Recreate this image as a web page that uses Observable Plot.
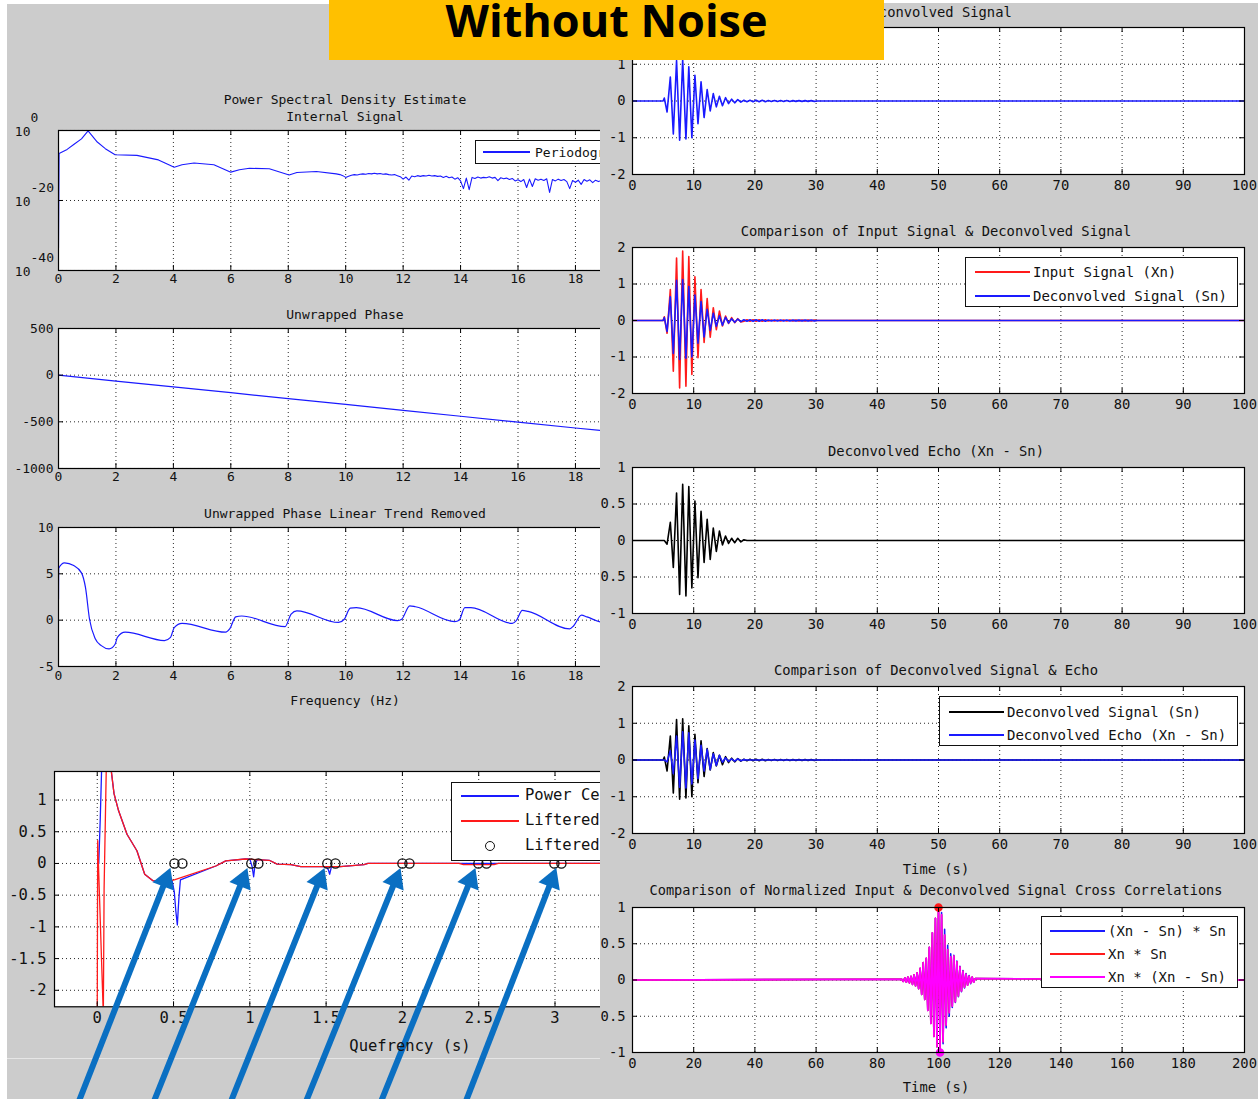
<!DOCTYPE html>
<html>
<head>
<meta charset="utf-8">
<script src="https://cdn.jsdelivr.net/npm/d3@7"></script>
<script src="https://cdn.jsdelivr.net/npm/@observablehq/plot@0.6"></script>
<style>
  html, body { margin: 0; padding: 0; background: #fff; }
  #page { position: relative; width: 1258px; height: 1099px; overflow: hidden; background: #fff;
          font-family: "DejaVu Sans Mono", monospace; }
  .col { position: absolute; top: 0; height: 1099px; overflow: hidden; }
  .lbl { position: absolute; white-space: nowrap; color: #111; line-height: 1; }
  .legend { position: absolute; background: #fff; border: 1px solid #111; box-sizing: border-box; }
  .swatch { position: absolute; height: 2px; }
  .ring { position: absolute; border: 1.3px solid #111; border-radius: 50%; box-sizing: border-box; }
</style>
</head>
<body>
<div id="page">
  <div id="left" class="col" style="left:0;width:600px;">
    <div style="position:absolute;left:7px;top:4px;width:593px;height:1095px;background:#cccccc;"></div>
    <div style="position:absolute;left:7px;top:1058px;width:593px;height:1px;background:#e6e6e6;"></div>
  </div>
  <div id="right" class="col" style="left:600px;width:658px;">
    <div style="position:absolute;left:0;top:3px;width:658px;height:1096px;background:#cccccc;"></div>
  </div>
  <div style="position:absolute;left:329px;top:0;width:555px;height:60px;background:#ffc000;z-index:5;"></div>
  <div style="position:absolute;left:329px;top:-11px;width:555px;text-align:center;z-index:6;
              font:700 45px 'Open Sans', sans-serif;color:#000;">Without Noise</div>
</div>
<script>
// ---------------- Data: left column (spectral analysis of the internal signal) ----------------
// Periodogram, smooth part (Hz, log10 of power)
const psdFreq = [0, 0.02, 0.3, 0.53, 0.8, 1.03, 1.35, 1.63, 1.97, 2.73, 3.48, 4.03, 4.3, 4.72, 5.41,
                 6.0, 6.3, 6.65, 7.34, 8.03, 8.3, 8.98, 9.67];
const psdLog  = [-33.7, -6.6, -5.4, -4.0, -2.4, -0.1, -3.3, -5.2, -6.95, -7.1, -8.4, -10.5, -9.8, -9.3, -9.8,
                 -11.9, -11.2, -10.8, -10.95, -12.7, -12.0, -11.7, -12.4];
// Periodogram, ragged high-frequency part
const psdNoiseFreq = [
  9.8, 9.9, 10.0, 10.1, 10.2, 10.3, 10.4, 10.5, 10.6, 10.7, 10.8, 10.9, 11.0, 11.1, 11.2, 11.3, 11.4, 11.5, 11.6, 11.7,
  11.8, 11.9, 12.0, 12.1, 12.2, 12.3, 12.4, 12.5, 12.6, 12.7, 12.8, 12.9, 13.0, 13.1, 13.2, 13.3, 13.4, 13.5, 13.6, 13.7,
  13.8, 13.9, 14.0, 14.1, 14.2, 14.3, 14.4, 14.5, 14.6, 14.7, 14.8, 14.9, 15.0, 15.1, 15.2, 15.3, 15.4, 15.5, 15.6, 15.7,
  15.8, 15.9, 16.0, 16.1, 16.2, 16.3, 16.4, 16.5, 16.6, 16.7, 16.8, 16.9, 17.0, 17.1, 17.2, 17.3, 17.4, 17.5, 17.6, 17.7,
  17.8, 17.9, 18.0, 18.1, 18.2, 18.3, 18.4, 18.5, 18.6, 18.7, 18.8, 18.9];
const psdNoiseLog = [
  -12.6, -12.9, -13.4, -13.1, -12.8, -12.6, -12.7, -12.5, -12.4, -12.5, -12.3, -12.4, -12.2, -12.4, -12.3, -12.5, -12.4, -12.6, -12.7, -12.6,
  -12.9, -13.2, -13.9, -13.3, -14.2, -13.0, -13.2, -12.9, -13.1, -12.9, -13.0, -12.8, -13.0, -12.9, -13.1, -13.0, -13.4, -13.1, -13.5, -13.3,
  -13.9, -13.5, -14.4, -16.6, -13.6, -16.9, -13.4, -13.7, -13.3, -13.6, -13.4, -13.5, -13.2, -13.6, -13.4, -14.3, -13.5, -13.8, -13.6, -14.0,
  -13.7, -14.4, -14.1, -14.6, -14.0, -16.3, -13.9, -16.0, -13.8, -14.2, -13.9, -14.3, -13.8, -17.7, -14.0, -14.4, -13.9, -14.3, -14.0, -14.6,
  -16.6, -14.3, -14.8, -14.2, -15.4, -14.0, -14.5, -14.1, -14.9, -14.2, -14.6, -14.3];
const psdExponents = [0, -20, -40];

// Unwrapped phase (rad)
const phaseFreq = [0, 2, 4, 6, 8, 10, 12, 14, 16, 18, 20];
const phaseVal  = [0, -63, -126, -188, -251, -314, -377, -440, -503, -566, -628];

// Unwrapped phase with the linear trend removed
const trendFreq = [0, 0.005, 0.21, 0.53, 0.8, 0.94, 1.08, 1.28, 1.49, 1.76, 1.97, 2.05, 2.32, 3.69, 3.9, 4.03, 4.3,
                   5.82, 5.96, 6.17, 6.38, 7.89, 8.1, 8.3, 9.75, 9.95, 10.16, 10.37, 11.81, 11.95, 12.23, 12.43,
                   13.8, 13.95, 14.15, 14.36, 15.8, 15.94, 16.15, 16.35, 17.8, 17.94, 18.21, 18.4, 18.87, 19.5];
const trendVal  = [2.25, 5.6, 6.18, 5.9, 5.1, 3.5, 0.1, -2.0, -2.75, -3.1, -2.6, -1.85, -1.3, -2.2, -1.85, -0.8, -0.35,
                   -1.3, -0.95, 0.35, 0.45, -0.7, 0.65, 1.0, -0.25, 0.1, 1.3, 1.35, -0.05, 0.1, 1.55, 1.45,
                   -0.15, 0, 1.35, 1.35, -0.35, -0.05, 1.05, 0.95, -0.95, -0.6, 0.55, 0.35, -0.2, -0.55];

// Power cepstrum and liftered cepstrum (quefrency in s)
const cepPowerQ = [0, 0.01, 0.02, 0.03, 0.085, 0.11, 0.14, 0.195, 0.26, 0.311, 0.363, 0.427, 0.49, 0.505, 0.515,
                   0.525, 0.535, 0.545, 0.777, 0.842, 0.97, 1.0, 1.015, 1.025, 1.035, 1.05, 1.127, 1.179, 1.27, 1.334,
                   1.5, 1.515, 1.523, 1.535, 1.593, 1.748, 1.774, 3.6];
const cepPowerV = [0, 0, 0.72, 1.6, 1.6, 1.1, 0.83, 0.46, 0.2, -0.17, -0.27, -0.3, -0.265, -0.45, -0.75,
                   -0.97, -0.55, -0.26, -0.04, 0.04, 0.07, 0.07, -0.05, -0.21, 0.0, 0.06, 0.05, -0.01, -0.02, -0.05,
                   -0.05, -0.1, -0.17, -0.05, -0.05, -0.02, 0, 0];
const cepLiftQ = [0, 0.003, 0.04, 0.045, 0.06, 0.085, 0.11, 0.14, 0.195, 0.26, 0.311, 0.363, 0.427, 0.505, 0.777,
                  0.842, 0.97, 1.127, 1.179, 1.27, 1.334, 1.593, 1.748, 1.774, 2.37, 2.4, 2.6, 2.63, 3.6];
const cepLiftV = [-2.4, 0.36, -2.4, -0.4, 1.6, 1.6, 1.1, 0.83, 0.46, 0.2, -0.17, -0.27, -0.3, -0.26, -0.04,
                  0.04, 0.07, 0.05, -0.01, -0.02, -0.05, -0.05, -0.02, 0, 0, -0.02, -0.02, 0, 0];
const liftPeakQ = [0.506, 0.558, 1.010, 1.056, 1.508, 1.561, 2.0, 2.046, 2.498, 2.551, 2.996, 3.042];
const liftPeakV = [0, 0, 0, 0, 0, 0, 0, 0, 0, 0, 0, 0];
// Pointer arrows onto the liftered peaks
const arrowTailQ = [-0.117, 0.375, 0.88, 1.372, 1.864, 2.419];
const arrowTailV = [-3.73, -3.73, -3.73, -3.73, -3.73, -3.73];
const arrowTipQ  = [0.48, 0.984, 1.489, 1.987, 2.478, 3.009];
const arrowTipV  = [-0.07, -0.07, -0.07, -0.07, -0.07, -0.07];

// ---------------- Data: right column (time signals) ----------------
const sigTime = [0, 5.0,
  5.2, 5.65, 6.18, 6.67, 7.2, 7.7, 8.2, 8.73, 9.2, 9.7, 10.2, 10.7, 11.2, 11.7, 12.2, 12.7, 13.2, 13.7,
  14.2, 14.7, 15.2, 15.7, 16.2, 16.7, 17.2, 17.7,
  18.2, 18.7, 19.2, 19.7, 20.2, 20.7, 21.2, 21.7, 22.2, 22.7, 23.2, 23.7, 24.2, 24.7, 25.2, 25.7,
  26.2, 26.7, 27.2, 27.7, 28.2, 28.7, 29.2, 29.7, 30.2, 100];
// Deconvolved signal Sn
const sigSn = [0, 0,
  0.08, -0.3, 0.65, -0.9, 1.1, -1.07, 1.12, -1.03, 0.93, -1.0, 0.7, -0.62, 0.52, -0.45, 0.31, -0.27, 0.2, -0.16,
  0.13, -0.13, 0.09, -0.07, 0.05, -0.05, 0.04, -0.03,
  0.02, -0.02, 0.02, -0.02, 0.02, -0.02, 0.02, -0.02, 0.015, -0.015, 0.015, -0.015, 0.015, -0.015, 0.015, -0.015,
  0.01, -0.01, 0.01, -0.01, 0.01, -0.01, 0.01, -0.01, 0, 0];
// Input signal Xn
const sigXn = [0, 0,
  0.1, -0.35, 0.85, -1.39, 1.71, -1.85, 1.9, -1.8, 1.75, -1.48, 1.2, -1.02, 0.85, -0.6, 0.6, -0.46, 0.35, -0.25,
  0.26, -0.15, 0.12, -0.08, 0.08, -0.06, 0.05, -0.04,
  -0.02, 0.02, -0.02, 0.02, -0.02, 0.02, -0.02, 0.02, -0.015, 0.015, -0.015, 0.015, -0.015, 0.015, -0.015, 0.015,
  -0.01, 0.01, -0.01, 0.01, -0.01, 0.01, -0.01, 0.01, 0, 0];
// Deconvolved echo Xn - Sn
const sigEcho = [0, 0,
  0, -0.05, 0.25, -0.37, 0.65, -0.74, 0.77, -0.76, 0.74, -0.65, 0.54, -0.51, 0.4, -0.3, 0.29, -0.26, 0.17, -0.15,
  0.13, -0.06, 0.06, -0.04, 0.03, -0.03, 0.03, -0.02,
  0.01, 0, 0, 0, 0, 0, 0, 0, 0, 0, 0, 0, 0, 0, 0, 0,
  0, 0, 0, 0, 0, 0, 0, 0, 0, 0];

// Normalized cross correlations (lag axis in s)
const ccTime = [0,
  88, 88.5, 89, 89.5, 90, 90.5, 91, 91.5, 92, 92.5, 93, 93.5, 94, 94.5, 95, 95.5, 96, 96.5, 97, 97.5,
  98, 98.5, 99, 99.5, 100, 100.5, 101, 101.5, 102, 102.5, 103, 103.5, 104, 104.5, 105, 105.5, 106, 106.5,
  107, 107.5, 108, 108.5, 109, 109.5, 110, 110.5, 111, 111.5, 112, 200];
const ccEchoSn = [0,
  0.01, -0.02, 0.03, -0.03, 0.04, -0.04, 0.05, -0.06, 0.07, -0.08, 0.1, -0.12, 0.16, -0.2, 0.24, -0.27, 0.3, -0.42, 0.45, -0.6,
  0.65, -0.78, 0.85, -0.92, 0.98, -0.98, 0.93, -0.88, 0.7, -0.66, 0.48, -0.5, 0.36, -0.38, 0.34, -0.31, 0.26, -0.23,
  0.19, -0.16, 0.13, -0.11, 0.09, -0.07, 0.06, -0.05, 0.04, -0.03, 0.02, 0];
const ccXnSn = [0,
  0.01, -0.02, 0.03, -0.03, 0.04, -0.04, 0.05, -0.06, 0.07, -0.08, 0.1, -0.12, 0.16, -0.2, 0.24, -0.27, 0.3, -0.42, 0.45, -0.6,
  0.65, -0.78, 0.85, -0.92, 1.0, -0.99, 0.9, -0.85, 0.62, -0.62, 0.42, -0.45, 0.32, -0.36, 0.33, -0.3, 0.25, -0.22,
  0.18, -0.15, 0.12, -0.1, 0.08, -0.07, 0.05, -0.04, 0.04, -0.03, 0.02, 0];
const ccXnEcho = [0,
  0.01, -0.02, 0.03, -0.03, 0.04, -0.04, 0.05, -0.06, 0.07, -0.08, 0.1, -0.12, 0.16, -0.2, 0.24, -0.27, 0.3, -0.42, 0.45, -0.6,
  0.65, -0.78, 0.85, -0.92, 0.99, -1.0, 0.9, -0.85, 0.62, -0.62, 0.42, -0.45, 0.32, -0.36, 0.33, -0.3, 0.25, -0.22,
  0.18, -0.15, 0.12, -0.1, 0.08, -0.07, 0.05, -0.04, 0.04, -0.03, 0.02, 0];
const ccPeakTime = [100, 100.5];
const ccPeakVal  = [1, -1];
const ccPeakColor = ["#ff1a1a", "#ff00ff"];

// ---------------- Helpers ----------------
const BLUE = "#1a1aff", RED = "#ff1a1a", MAGENTA = "#ff00ff", INK = "#111";
const pts = (xs, ys) => xs.map((x, i) => ({x, y: ys[i]}));
const M = 70; // svg margin around each axes box

const leftHost = document.getElementById("left");
const rightHost = document.getElementById("right");

// One MATLAB-style axes: white box, dotted grid, inward ticks, tick labels.
function panel(host, hostLeft, cfg) {
  const [x0, x1, y0, y1] = cfg.box;
  const W = x1 - x0, H = y1 - y0;
  const fs = cfg.fontSize, tl = cfg.tickLen ?? 5;
  const xLab = cfg.xLabels ?? cfg.xTicks;
  const yLab = cfg.yLabels ?? cfg.yTicks;
  const grid = {stroke: "#000", strokeOpacity: 0.85, strokeDasharray: "1,3", strokeWidth: 1};
  const svg = Plot.plot({
    width: W + 2 * M, height: H + 2 * M,
    marginLeft: M, marginRight: M, marginTop: M, marginBottom: M,
    x: {domain: cfg.xDomain, axis: null},
    y: {type: cfg.yType ?? "linear", domain: cfg.yDomain, axis: null},
    style: {background: "transparent", overflow: "visible", maxWidth: "none",
            fontFamily: "'DejaVu Sans Mono', monospace", fontSize: fs + "px", color: INK},
    marks: [
      Plot.frame({fill: "white"}),
      Plot.ruleX(cfg.xTicks, grid),
      Plot.ruleY(cfg.yTicks, grid),
      ...cfg.marks,
      Plot.ruleX(cfg.xTicks, {stroke: "#000", insetTop: H - tl}),
      Plot.ruleX(cfg.xTicks, {stroke: "#000", insetBottom: H - tl}),
      Plot.ruleY(cfg.yTicks, {stroke: "#000", insetRight: W - tl}),
      Plot.ruleY(cfg.yTicks, {stroke: "#000", insetLeft: W - tl}),
      Plot.frame({stroke: "#000", strokeWidth: 1.2}),
      Plot.text(xLab, {x: d => d, frameAnchor: "bottom", dy: cfg.xPad, text: d => String(d),
                       fontSize: fs, fill: INK}),
      ...(yLab.length ? [Plot.text(yLab, {y: d => d, frameAnchor: "left", dx: -cfg.yPad, textAnchor: "end",
                       text: d => String(d), fontSize: fs, fill: INK})] : []),
      ...(cfg.overlay ?? [])
    ]
  });
  svg.style.position = "absolute";
  svg.style.left = (x0 - M - hostLeft) + "px";
  svg.style.top = (y0 - M) + "px";
  host.appendChild(svg);
  return svg;
}

function label(host, hostLeft, text, cx, cy, size, anchor = "middle") {
  const d = document.createElement("div");
  d.className = "lbl";
  d.textContent = text;
  d.style.fontSize = size + "px";
  d.style.left = (cx - hostLeft) + "px";
  d.style.top = cy + "px";
  d.style.transform = anchor === "middle" ? "translate(-50%,-50%)" : "translate(0,-50%)";
  host.appendChild(d);
}

function legend(host, hostLeft, box, rows, opt) {
  const [l, t, w, h] = box;
  const b = document.createElement("div");
  b.className = "legend";
  Object.assign(b.style, {left: (l - hostLeft) + "px", top: t + "px", width: w + "px", height: h + "px"});
  host.appendChild(b);
  for (const r of rows) {
    if (r.ring) {
      const c = document.createElement("div");
      c.className = "ring";
      const s = opt.ring;
      Object.assign(c.style, {left: ((opt.l0 + opt.l1) / 2 - s / 2 - l - 1) + "px", top: (r.y - s / 2 - t - 1) + "px",
                              width: s + "px", height: s + "px"});
      b.appendChild(c);
    } else {
      const s = document.createElement("div");
      s.className = "swatch";
      s.style.left = (opt.l0 - l - 1) + "px";
      s.style.top = (r.y - t - 2) + "px";
      s.style.width = (opt.l1 - opt.l0) + "px";
      s.style.background = r.color;
      b.appendChild(s);
    }
    const tx = document.createElement("div");
    tx.className = "lbl";
    tx.textContent = r.text;
    Object.assign(tx.style, {fontSize: opt.size + "px", left: (opt.tx - l - 1) + "px", top: (r.y - t - 1) + "px",
                             transform: "translate(0,-50%)"});
    b.appendChild(tx);
  }
}

// ---------------- Left column ----------------
const freqTicks = [0, 2, 4, 6, 8, 10, 12, 14, 16, 18, 20];
const freqLabels = [0, 2, 4, 6, 8, 10, 12, 14, 16, 18];
const leftBoxX = [58, 58 + 20 * 28.72];

const psdData = pts(psdFreq.concat(psdNoiseFreq), psdLog.concat(psdNoiseLog)).map(d => ({x: d.x, y: 10 ** d.y}));
panel(leftHost, 0, {
  box: [leftBoxX[0], leftBoxX[1], 130, 270], xDomain: [0, 20], yDomain: [1e-40, 1], yType: "log",
  xTicks: freqTicks, xLabels: freqLabels, yTicks: psdExponents.map(e => 10 ** e), yLabels: [],
  fontSize: 13, xPad: 13, yPad: 5,
  marks: [Plot.line(psdData, {x: "x", y: "y", stroke: BLUE, strokeWidth: 1.1, clip: true})],
  overlay: [
    Plot.text(psdExponents, {y: e => 10 ** e, frameAnchor: "left", dx: -28, dy: 1, textAnchor: "end",
                             text: () => "10", fontSize: 13, fill: INK}),
    Plot.text(psdExponents, {y: e => 10 ** e, frameAnchor: "left", dx: -28, dy: -13, textAnchor: "start",
                             text: e => String(e), fontSize: 13, fill: INK})
  ]
});
label(leftHost, 0, "Power Spectral Density Estimate", 345, 99, 13);
label(leftHost, 0, "Internal Signal", 345, 116, 13);
legend(leftHost, 0, [475, 140, 200, 24], [{y: 152, color: BLUE, text: "Periodogram"}],
       {l0: 483, l1: 530, tx: 535, size: 13});

panel(leftHost, 0, {
  box: [leftBoxX[0], leftBoxX[1], 328, 468], xDomain: [0, 20], yDomain: [-1000, 500],
  xTicks: freqTicks, xLabels: freqLabels, yTicks: [-1000, -500, 0, 500],
  fontSize: 13, xPad: 13, yPad: 5,
  marks: [Plot.line(pts(phaseFreq, phaseVal), {x: "x", y: "y", stroke: BLUE, strokeWidth: 1.2, clip: true})]
});
label(leftHost, 0, "Unwrapped Phase", 345, 314, 13);

panel(leftHost, 0, {
  box: [leftBoxX[0], leftBoxX[1], 527, 666], xDomain: [0, 20], yDomain: [-5, 10],
  xTicks: freqTicks, xLabels: freqLabels, yTicks: [-5, 0, 5, 10],
  fontSize: 13, xPad: 14, yPad: 5,
  marks: [Plot.line(pts(trendFreq, trendVal), {x: "x", y: "y", stroke: BLUE, strokeWidth: 1.2,
                                               curve: "monotone-x", clip: true})]
});
label(leftHost, 0, "Unwrapped Phase Linear Trend Removed", 345, 513, 13);
label(leftHost, 0, "Frequency (Hz)", 345, 700, 13);

// Cepstrum axes
const cepBox = [96.8 - 0.28 * 152.6, 96.8 + 3.6 * 152.6, 770.7, 1006];
const cepXDom = [-0.28, 3.6], cepYDom = [-2.26, 1.45];
const kx = (cepBox[1] - cepBox[0]) / (cepXDom[1] - cepXDom[0]);
const ky = (cepBox[3] - cepBox[2]) / (cepYDom[1] - cepYDom[0]);
const arrows = arrowTipQ.map((q, i) => {
  const ang = Math.atan2((q - arrowTailQ[i]) * kx, (arrowTipV[i] - arrowTailV[i]) * ky) * 180 / Math.PI;
  return {x1: arrowTailQ[i], y1: arrowTailV[i], x2: q, y2: arrowTipV[i], ang};
});
const headR = 8.5, headOff = 1.555 * headR, headAng = d3.mean(arrows, d => d.ang) * Math.PI / 180;
const ARROW = "#0a6fc2";
panel(leftHost, 0, {
  box: cepBox, xDomain: cepXDom, yDomain: cepYDom,
  xTicks: [0, 0.5, 1, 1.5, 2, 2.5, 3, 3.5], yTicks: [-2, -1.5, -1, -0.5, 0, 0.5, 1],
  fontSize: 15.5, xPad: 16, yPad: 8,
  marks: [
    Plot.line(pts(cepPowerQ, cepPowerV), {x: "x", y: "y", stroke: BLUE, strokeWidth: 1.3, clip: true}),
    Plot.line(pts(cepLiftQ, cepLiftV), {x: "x", y: "y", stroke: RED, strokeWidth: 1.3, clip: true}),
    Plot.dot(pts(liftPeakQ, liftPeakV), {x: "x", y: "y", r: 4.6, stroke: INK, strokeWidth: 1.3, fill: "none"})
  ],
  overlay: [
    Plot.arrow(arrows, {x1: "x1", y1: "y1", x2: "x2", y2: "y2", stroke: ARROW, strokeWidth: 6,
                        headLength: 0, insetEnd: headOff, strokeLinecap: "butt"}),
    Plot.dot(arrows, {x: "x2", y: "y2", symbol: "triangle", r: headR, fill: ARROW, stroke: "none",
                      rotate: "ang", dx: -headOff * Math.sin(headAng), dy: headOff * Math.cos(headAng)})
  ]
});
label(leftHost, 0, "Quefrency (s)", 410, 1047, 15.5);
legend(leftHost, 0, [451, 782, 250, 79], [
  {y: 796, color: BLUE, text: "Power Cepstrum"},
  {y: 821, color: RED, text: "Liftered Cepstrum"},
  {y: 846, ring: true, text: "Liftered Peaks"}
], {l0: 461, l1: 519, tx: 525, size: 15.5, ring: 10});

// ---------------- Right column ----------------
const RX = 600;
const rBox = [631.5, 1243.5];
const tTicks = [0, 10, 20, 30, 40, 50, 60, 70, 80, 90, 100];
const rightCommon = {fontSize: 13.8, xPad: 15, yPad: 7, tickLen: 5};
const lineOpt = (c) => ({x: "x", y: "y", stroke: c, strokeWidth: 1.6, clip: true});

panel(rightHost, RX, {...rightCommon,
  box: [rBox[0], rBox[1], 27, 174], xDomain: [0, 100], yDomain: [-2, 2],
  xTicks: tTicks, yTicks: [-2, -1, 0, 1, 2],
  marks: [Plot.line(pts(sigTime, sigSn), lineOpt(BLUE))]
});
label(rightHost, RX, "Deconvolved Signal", 937, 13, 13.8);

panel(rightHost, RX, {...rightCommon,
  box: [rBox[0], rBox[1], 247, 393], xDomain: [0, 100], yDomain: [-2, 2],
  xTicks: tTicks, yTicks: [-2, -1, 0, 1, 2],
  marks: [Plot.line(pts(sigTime, sigXn), lineOpt(RED)), Plot.line(pts(sigTime, sigSn), lineOpt(BLUE))]
});
label(rightHost, RX, "Comparison of Input Signal & Deconvolved Signal", 936, 232, 13.8);
legend(rightHost, RX, [965, 257, 273, 50], [
  {y: 272, color: RED, text: "Input Signal (Xn)"},
  {y: 296, color: BLUE, text: "Deconvolved Signal (Sn)"}
], {l0: 975, l1: 1030, tx: 1033, size: 14});

panel(rightHost, RX, {...rightCommon,
  box: [rBox[0], rBox[1], 467, 613], xDomain: [0, 100], yDomain: [-1, 1],
  xTicks: tTicks, yTicks: [-1, -0.5, 0, 0.5, 1],
  marks: [Plot.line(pts(sigTime, sigEcho), lineOpt("#000"))]
});
label(rightHost, RX, "Deconvolved Echo (Xn - Sn)", 936, 452, 13.8);

panel(rightHost, RX, {...rightCommon,
  box: [rBox[0], rBox[1], 686, 833], xDomain: [0, 100], yDomain: [-2, 2],
  xTicks: tTicks, yTicks: [-2, -1, 0, 1, 2],
  marks: [Plot.line(pts(sigTime, sigSn), lineOpt("#000")), Plot.line(pts(sigTime, sigEcho), lineOpt(BLUE))]
});
label(rightHost, RX, "Comparison of Deconvolved Signal & Echo", 936, 671, 13.8);
label(rightHost, RX, "Time (s)", 936, 870, 13.8);
legend(rightHost, RX, [939, 696, 299, 50], [
  {y: 712, color: "#000", text: "Deconvolved Signal (Sn)"},
  {y: 735, color: BLUE, text: "Deconvolved Echo (Xn - Sn)"}
], {l0: 949, l1: 1004, tx: 1007, size: 14});

panel(rightHost, RX, {...rightCommon,
  box: [rBox[0], rBox[1], 907, 1052], xDomain: [0, 200], yDomain: [-1, 1],
  xTicks: [0, 20, 40, 60, 80, 100, 120, 140, 160, 180, 200], yTicks: [-1, -0.5, 0, 0.5, 1],
  marks: [
    Plot.line(pts(ccTime, ccEchoSn), lineOpt(BLUE)),
    Plot.line(pts(ccTime, ccXnSn), lineOpt(RED)),
    Plot.line(pts(ccTime, ccXnEcho), lineOpt(MAGENTA)),
    Plot.dot(ccPeakTime.map((t, i) => ({x: t, y: ccPeakVal[i], c: ccPeakColor[i]})),
             {x: "x", y: "y", r: 3.5, fill: "c", stroke: "c"})
  ]
});
label(rightHost, RX, "Comparison of Normalized Input & Deconvolved Signal Cross Correlations", 936, 891, 13.6);
label(rightHost, RX, "Time (s)", 936, 1088, 13.8);
legend(rightHost, RX, [1041, 916, 197, 72], [
  {y: 931, color: BLUE, text: "(Xn - Sn) * Sn"},
  {y: 954, color: RED, text: "Xn * Sn"},
  {y: 977, color: MAGENTA, text: "Xn * (Xn - Sn)"}
], {l0: 1050, l1: 1105, tx: 1108, size: 14});
</script>
</body>
</html>
